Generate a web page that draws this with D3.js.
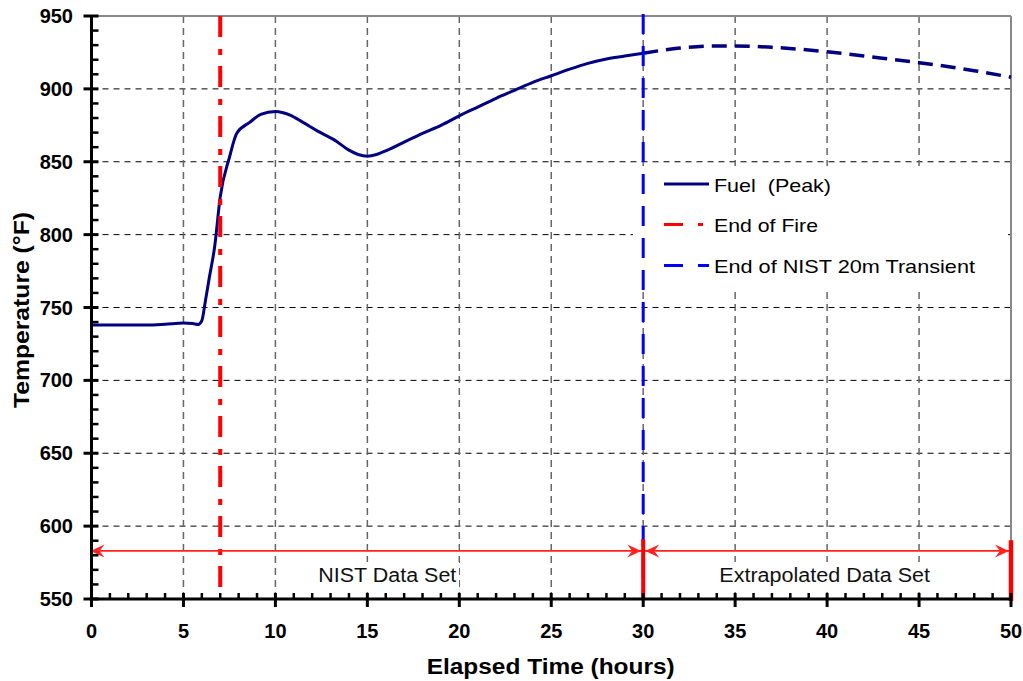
<!DOCTYPE html>
<html>
<head>
<meta charset="utf-8">
<script src="https://cdn.jsdelivr.net/npm/d3@7"></script>
<style>
  body { margin: 0; background: #fff; }
  svg { display: block; font-family: "Liberation Sans", Arial, sans-serif; }
</style>
</head>
<body>
<svg id="chart" width="1023" height="681"></svg>
<script>
// ---- data ----
const measuredTime = [0, 1, 2, 3, 4, 5, 5.5, 5.8, 6.0, 6.2, 6.4, 6.7, 7.0, 7.5, 7.9, 8.6, 9.2, 10.0, 10.8, 11.5, 12.3, 13.2, 14.0, 14.5, 15.0, 15.5, 16.0, 17.0, 18.0, 19.0, 20.0, 21.0, 22.0, 23.0, 24.0, 25.0, 26.0, 27.0, 28.0, 29.0, 30.0];
const measuredTemp = [738, 738, 738, 738, 738.5, 739.3, 739, 738.3, 741, 755, 770, 792, 826, 853, 869.5, 877, 882.5, 884.5, 882, 877, 871, 865, 858, 855, 853.8, 855, 857.5, 863.5, 869.5, 875, 881.5, 887.5, 893.5, 899, 904.5, 909, 913.5, 917.5, 920.5, 922.5, 924.5];
const extrapTime = [30, 32, 34, 35, 37, 40, 43, 45, 48, 50];
const extrapTemp = [924.5, 928, 929.5, 929.5, 928.5, 925.5, 921, 918, 912.5, 908];
const endOfFireTime = 7;
const endOfNistTime = 30;
const xTicks = [0, 5, 10, 15, 20, 25, 30, 35, 40, 45, 50];
const yTicks = [550, 600, 650, 700, 750, 800, 850, 900, 950];
const rangeArrowTemp = 583;
const rangeBarTop = 591;
const legendLabels = ["Fuel  (Peak)", "End of Fire", "End of NIST 20m Transient"];
const regionLabels = ["NIST Data Set", "Extrapolated Data Set"];

// ---- layout ----
const svg = d3.select("#chart");
const L = 91.5, R = 1011, T = 16, B = 599;
const x = d3.scaleLinear().domain([0, 50]).range([L, R]);
const y = d3.scaleLinear().domain([550, 950]).range([B, T]);

// grid
const g = svg.append("g");
g.selectAll(".hg").data(yTicks.filter(v => v > 550 && v < 950)).join("line")
  .attr("x1", L).attr("x2", R).attr("y1", d => y(d)).attr("y2", d => y(d))
  .attr("stroke", "#000").attr("stroke-width", 1).attr("stroke-dasharray", "6,5");
g.selectAll(".vg").data(xTicks.filter(v => v > 0 && v < 50)).join("line")
  .attr("x1", d => x(d)).attr("x2", d => x(d)).attr("y1", T).attr("y2", B)
  .attr("stroke", "#666").attr("stroke-width", 1.5).attr("stroke-dasharray", "7,5");
// top/right border
g.append("line").attr("x1", L).attr("x2", R).attr("y1", T).attr("y2", T).attr("stroke", "#888").attr("stroke-width", 2);
g.append("line").attr("x1", R).attr("x2", R).attr("y1", T).attr("y2", B).attr("stroke", "#888").attr("stroke-width", 2);

// fuel lines
const line = d3.line().x(d => x(d[0])).y(d => y(d[1])).curve(d3.curveMonotoneX);
svg.append("path").datum(d3.zip(measuredTime, measuredTemp)).attr("d", line)
  .attr("fill", "none").attr("stroke", "#000080").attr("stroke-width", 3);
svg.append("path").datum(d3.zip(extrapTime, extrapTemp)).attr("d", line)
  .attr("fill", "none").attr("stroke", "#000080").attr("stroke-width", 3.5).attr("stroke-dasharray", "15,8");

// legend background
svg.append("rect").attr("x", 633).attr("y", 166).attr("width", 375).attr("height", 122).attr("fill", "#fff");

// region label backgrounds
svg.append("rect").attr("x", 316).attr("y", 562).attr("width", 143).attr("height", 29).attr("fill", "#fff");
svg.append("rect").attr("x", 717).attr("y", 562).attr("width", 216).attr("height", 29).attr("fill", "#fff");

// vertical markers
svg.append("line").attr("x1", x(endOfFireTime)).attr("x2", x(endOfFireTime)).attr("y1", T).attr("y2", B)
  .attr("stroke", "#ff0000").attr("stroke-width", 4).attr("stroke-dasharray", "21,12,6,11");
svg.append("line").attr("x1", x(endOfNistTime)).attr("x2", x(endOfNistTime)).attr("y1", 14).attr("y2", B)
  .attr("stroke", "#0000ff").attr("stroke-width", 3).attr("stroke-dasharray", "20,12");

// legend
const leg = svg.append("g");
const legY = [184, 224.5, 265.5];
const legStyles = [
  {c: "#000080", dash: null, w: 3},
  {c: "#ff0000", dash: "19,15,5,20", w: 3},
  {c: "#0000ff", dash: "19,15,11,20", w: 3}
];
const legWidths = [117, 104, 261];
legendLabels.forEach((lab, i) => {
  leg.append("line").attr("x1", 664).attr("x2", 709).attr("y1", legY[i]).attr("y2", legY[i])
    .attr("stroke", legStyles[i].c).attr("stroke-width", legStyles[i].w)
    .attr("stroke-dasharray", legStyles[i].dash);
  leg.append("text").attr("x", 714).attr("y", legY[i] + 7.5).attr("font-size", 19)
    .style("white-space", "pre")
    .attr("textLength", legWidths[i]).attr("lengthAdjust", "spacingAndGlyphs")
    .attr("fill", "#000").text(lab);
});

// range arrows
const ay = y(rangeArrowTemp);
const red = "#ff2020";
function arrowHead(tipX, dir) {
  const p = d3.path();
  p.moveTo(tipX, ay);
  p.lineTo(tipX - dir * 14, ay - 6.5);
  p.lineTo(tipX - dir * 9, ay);
  p.lineTo(tipX - dir * 14, ay + 6.5);
  p.closePath();
  svg.append("path").attr("d", p.toString()).attr("fill", red);
}
svg.append("line").attr("x1", x(0)).attr("x2", x(30)).attr("y1", ay).attr("y2", ay).attr("stroke", red).attr("stroke-width", 1.8);
svg.append("line").attr("x1", x(30)).attr("x2", x(50)).attr("y1", ay).attr("y2", ay).attr("stroke", red).attr("stroke-width", 1.8);
arrowHead(x(0) - 1, -1);
arrowHead(x(30) - 2, 1);
arrowHead(x(30) + 2, -1);
arrowHead(x(50) - 2, 1);
svg.append("line").attr("x1", x(30)).attr("x2", x(30)).attr("y1", y(rangeBarTop)).attr("y2", B + 1).attr("stroke", "#ff0000").attr("stroke-width", 4);
svg.append("line").attr("x1", x(50)).attr("x2", x(50)).attr("y1", y(rangeBarTop) + 1).attr("y2", B + 2).attr("stroke", "#ff0000").attr("stroke-width", 4.5);

svg.append("text").attr("x", 318.3).attr("y", 582.3).attr("font-size", 20)
  .attr("textLength", 138).attr("lengthAdjust", "spacingAndGlyphs").attr("fill", "#111").text(regionLabels[0]);
svg.append("text").attr("x", 719.3).attr("y", 582.3).attr("font-size", 20)
  .attr("textLength", 210.7).attr("lengthAdjust", "spacingAndGlyphs").attr("fill", "#111").text(regionLabels[1]);

// axes
const ax = svg.append("g");
const yMinor = d3.range(550, 951, 10).filter(v => v % 50 !== 0);
ax.selectAll(".ymin").data(yMinor).join("line")
  .attr("x1", L).attr("x2", L + 7).attr("y1", d => y(d)).attr("y2", d => y(d))
  .attr("stroke", "#000").attr("stroke-width", 2.5);
ax.selectAll(".ymaj").data(yTicks).join("line")
  .attr("x1", L - 8).attr("x2", L + 7).attr("y1", d => y(d)).attr("y2", d => y(d))
  .attr("stroke", "#000").attr("stroke-width", 3);
const xMinor = d3.range(0, 51, 1).filter(v => v % 5 !== 0);
ax.selectAll(".xmin").data(xMinor).join("line")
  .attr("x1", d => x(d)).attr("x2", d => x(d)).attr("y1", B - 6).attr("y2", B)
  .attr("stroke", "#000").attr("stroke-width", 2.5);
ax.selectAll(".xmaj").data(xTicks).join("line")
  .attr("x1", d => x(d)).attr("x2", d => x(d)).attr("y1", B - 6).attr("y2", B + 8)
  .attr("stroke", "#000").attr("stroke-width", 3);
ax.append("line").attr("x1", L).attr("x2", L).attr("y1", T).attr("y2", B + 1.5).attr("stroke", "#000").attr("stroke-width", 3);
ax.append("line").attr("x1", L - 1.5).attr("x2", R).attr("y1", B).attr("y2", B).attr("stroke", "#000").attr("stroke-width", 3);

ax.selectAll(".ylab").data(yTicks).join("text")
  .attr("x", 73).attr("y", d => y(d) + 7).attr("text-anchor", "end")
  .attr("font-size", 20).attr("font-weight", "bold").text(d => d);
ax.selectAll(".xlab").data(xTicks).join("text")
  .attr("x", d => x(d)).attr("y", 638).attr("text-anchor", "middle")
  .attr("font-size", 20).attr("font-weight", "bold").text(d => d);

svg.append("text").attr("x", 426.7).attr("y", 674).attr("font-size", 22).attr("font-weight", "bold")
  .attr("textLength", 248).attr("lengthAdjust", "spacingAndGlyphs").text("Elapsed Time (hours)");
svg.append("text").attr("transform", "translate(29,408) rotate(-90)").attr("font-size", 22).attr("font-weight", "bold")
  .attr("textLength", 196).attr("lengthAdjust", "spacingAndGlyphs").text("Temperature (°F)");
</script>
</body>
</html>
